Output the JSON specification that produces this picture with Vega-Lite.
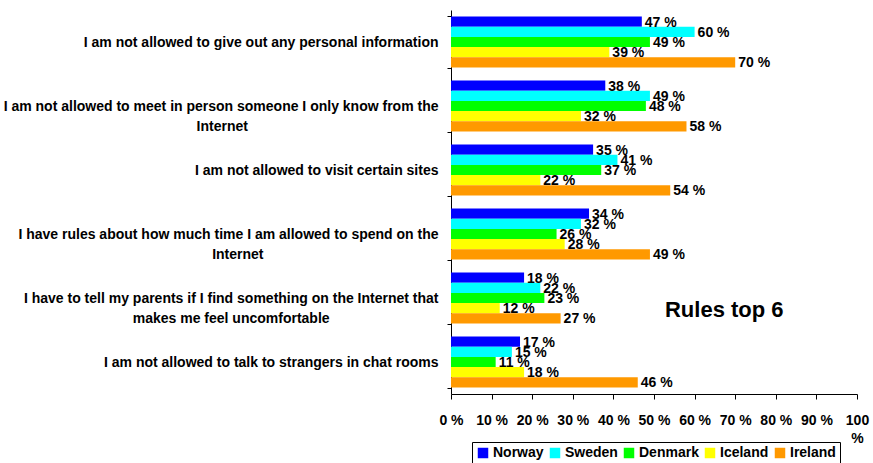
{
  "$schema": "https://vega.github.io/schema/vega-lite/v6.json",
  "autosize": {"type": "none"},
  "padding": {"left": 451, "top": 10, "right": 16, "bottom": 69},
  "width": 406,
  "height": 384,
  "background": "white",
  "config": {
    "view": {"stroke": null},
    "font": "Liberation Sans, Arial",
    "text": {"font": "Liberation Sans, Arial"}
  },
  "datasets": {
    "rules": [
      {"rule": "I am not allowed to give out any personal information", "country": "Norway", "value": 47},
      {"rule": "I am not allowed to give out any personal information", "country": "Sweden", "value": 60},
      {"rule": "I am not allowed to give out any personal information", "country": "Denmark", "value": 49},
      {"rule": "I am not allowed to give out any personal information", "country": "Iceland", "value": 39},
      {"rule": "I am not allowed to give out any personal information", "country": "Ireland", "value": 70},
      {"rule": "I am not allowed to meet in person someone I only know from the Internet", "country": "Norway", "value": 38},
      {"rule": "I am not allowed to meet in person someone I only know from the Internet", "country": "Sweden", "value": 49},
      {"rule": "I am not allowed to meet in person someone I only know from the Internet", "country": "Denmark", "value": 48},
      {"rule": "I am not allowed to meet in person someone I only know from the Internet", "country": "Iceland", "value": 32},
      {"rule": "I am not allowed to meet in person someone I only know from the Internet", "country": "Ireland", "value": 58},
      {"rule": "I am not allowed to visit certain sites", "country": "Norway", "value": 35},
      {"rule": "I am not allowed to visit certain sites", "country": "Sweden", "value": 41},
      {"rule": "I am not allowed to visit certain sites", "country": "Denmark", "value": 37},
      {"rule": "I am not allowed to visit certain sites", "country": "Iceland", "value": 22},
      {"rule": "I am not allowed to visit certain sites", "country": "Ireland", "value": 54},
      {"rule": "I have rules about how much time I am allowed to spend on the Internet", "country": "Norway", "value": 34},
      {"rule": "I have rules about how much time I am allowed to spend on the Internet", "country": "Sweden", "value": 32},
      {"rule": "I have rules about how much time I am allowed to spend on the Internet", "country": "Denmark", "value": 26},
      {"rule": "I have rules about how much time I am allowed to spend on the Internet", "country": "Iceland", "value": 28},
      {"rule": "I have rules about how much time I am allowed to spend on the Internet", "country": "Ireland", "value": 49},
      {"rule": "I have to tell my parents if I find something on the Internet that makes me feel uncomfortable", "country": "Norway", "value": 18},
      {"rule": "I have to tell my parents if I find something on the Internet that makes me feel uncomfortable", "country": "Sweden", "value": 22},
      {"rule": "I have to tell my parents if I find something on the Internet that makes me feel uncomfortable", "country": "Denmark", "value": 23},
      {"rule": "I have to tell my parents if I find something on the Internet that makes me feel uncomfortable", "country": "Iceland", "value": 12},
      {"rule": "I have to tell my parents if I find something on the Internet that makes me feel uncomfortable", "country": "Ireland", "value": 27},
      {"rule": "I am not allowed to talk to strangers in chat rooms", "country": "Norway", "value": 17},
      {"rule": "I am not allowed to talk to strangers in chat rooms", "country": "Sweden", "value": 15},
      {"rule": "I am not allowed to talk to strangers in chat rooms", "country": "Denmark", "value": 11},
      {"rule": "I am not allowed to talk to strangers in chat rooms", "country": "Iceland", "value": 18},
      {"rule": "I am not allowed to talk to strangers in chat rooms", "country": "Ireland", "value": 46}
    ],
    "title": [{"text": "Rules top 6"}]
  },
  "encoding": {
    "y": {
      "field": "rule",
      "type": "nominal",
      "sort": null,
      "scale": {
        "domain": [
          "I am not allowed to give out any personal information",
          "I am not allowed to meet in person someone I only know from the Internet",
          "I am not allowed to visit certain sites",
          "I have rules about how much time I am allowed to spend on the Internet",
          "I have to tell my parents if I find something on the Internet that makes me feel uncomfortable",
          "I am not allowed to talk to strangers in chat rooms"
        ],
        "paddingInner": 0.2,
        "paddingOuter": 0.1
      },
      "axis": {
        "title": null,
        "domainColor": "#000000",
        "tickColor": "#000000",
        "tickSize": 4,
        "tickBand": "extent",
        "labelPadding": 9,
        "labelFont": "Liberation Sans, Arial",
        "labelFontSize": 14,
        "labelFontWeight": "bold",
        "labelColor": "#000000",
        "labelLimit": 460,
        "labelLineHeight": 20,
        "labelExpr": "datum.value == 'I am not allowed to meet in person someone I only know from the Internet' ? ['I am not allowed to meet in person someone I only know from the', pad('Internet', 57, '\u00a0') + '\u200b'] : datum.value == 'I have rules about how much time I am allowed to spend on the Internet' ? ['I have rules about how much time I am allowed to spend on the', pad('Internet', 53, '\u00a0') + '\u200b'] : datum.value == 'I have to tell my parents if I find something on the Internet that makes me feel uncomfortable' ? ['I have to tell my parents if I find something on the Internet that', pad('makes me feel uncomfortable', 55, '\u00a0') + '\u200b'] : datum.value"
      }
    }
  },
  "layer": [
    {
      "data": {"name": "rules"},
      "mark": {"type": "bar"},
      "encoding": {
        "x": {
          "field": "value",
          "type": "quantitative",
          "scale": {"domain": [0, 100], "nice": false},
          "axis": {
            "title": null,
            "values": [0, 10, 20, 30, 40, 50, 60, 70, 80, 90, 100],
            "grid": false,
            "domainColor": "#000000",
            "tickColor": "#000000",
            "tickSize": 5,
            "labelPadding": 14,
            "labelFont": "Liberation Sans, Arial",
            "labelFontSize": 14,
            "labelFontWeight": "bold",
            "labelColor": "#000000",
            "labelFlush": false,
            "labelOverlap": false,
            "labelLineHeight": 18,
            "labelExpr": "datum.value == 100 ? ['100', '%'] : datum.value + ' %'"
          }
        },
        "yOffset": {
          "field": "country",
          "type": "nominal",
          "sort": ["Norway", "Sweden", "Denmark", "Iceland", "Ireland"],
          "scale": {"paddingInner": 0, "paddingOuter": 0}
        },
        "color": {
          "field": "country",
          "type": "nominal",
          "sort": ["Norway", "Sweden", "Denmark", "Iceland", "Ireland"],
          "scale": {
            "domain": ["Norway", "Sweden", "Denmark", "Iceland", "Ireland"],
            "range": ["#0000FF", "#00FFFF", "#00FF00", "#FFFF00", "#FF9900"]
          },
          "legend": {
            "title": null,
            "orient": "none",
            "direction": "horizontal",
            "legendX": 21,
            "legendY": 432,
            "strokeColor": "#000000",
            "padding": 4,
            "symbolType": "square",
            "symbolSize": 110,
            "symbolStrokeWidth": 0,
            "symbolOpacity": 1,
            "columnPadding": 4,
            "labelFont": "Liberation Sans, Arial",
            "labelFontSize": 14,
            "labelFontWeight": "bold",
            "labelColor": "#000000",
            "labelOffset": 3
          }
        }
      }
    },
    {
      "data": {"name": "rules"},
      "transform": [{"calculate": "datum.value + ' %'", "as": "label"}],
      "mark": {"type": "text", "align": "left", "baseline": "middle", "dx": 3, "dy": 1, "fontSize": 14, "fontWeight": "bold", "color": "#000000"},
      "encoding": {
        "x": {"field": "value", "type": "quantitative"},
        "yOffset": {
          "field": "country",
          "type": "nominal",
          "sort": ["Norway", "Sweden", "Denmark", "Iceland", "Ireland"]
        },
        "text": {"field": "label"}
      }
    },
    {
      "data": {"name": "title"},
      "mark": {"type": "text", "align": "center", "baseline": "middle", "fontSize": 22, "fontWeight": "bold", "color": "#000000", "dy": 12},
      "encoding": {
        "x": {"datum": 67.3},
        "y": {"datum": "I have to tell my parents if I find something on the Internet that makes me feel uncomfortable"},
        "text": {"field": "text"}
      }
    }
  ]
}
